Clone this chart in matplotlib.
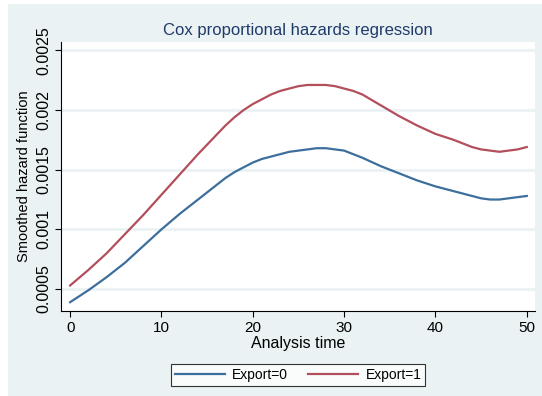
import numpy as np
import matplotlib
matplotlib.use('Agg')
from matplotlib import pyplot as plt

plt.rcParams['font.family'] = ['Liberation Sans', 'DejaVu Sans']

# analysis time grid and smoothed hazards
time = [0, 2, 4, 6, 8, 10, 12, 14, 16, 17, 18, 19, 20, 21, 22, 23, 24, 25, 26,
        27, 28, 29, 30, 31, 32, 34, 36, 38, 40, 42, 43, 44, 45, 46, 47, 48, 49, 50]
haz_export0 = [0.00039, 0.00049, 0.00060, 0.00072, 0.00086, 0.00100, 0.00113,
               0.00125, 0.00137, 0.00143, 0.00148, 0.00152, 0.00156, 0.00159,
               0.00161, 0.00163, 0.00165, 0.00166, 0.00167, 0.00168, 0.00168,
               0.00167, 0.00166, 0.00163, 0.00160, 0.00153, 0.00147, 0.00141,
               0.00136, 0.00132, 0.00130, 0.00128, 0.00126, 0.00125, 0.00125,
               0.00126, 0.00127, 0.00128]
haz_export1 = [0.00053, 0.00066, 0.00080, 0.00096, 0.00112, 0.00129, 0.00146,
               0.00163, 0.00179, 0.00187, 0.00194, 0.00200, 0.00205, 0.00209,
               0.00213, 0.00216, 0.00218, 0.00220, 0.00221, 0.00221, 0.00221,
               0.00220, 0.00218, 0.00216, 0.00213, 0.00204, 0.00195, 0.00187,
               0.00180, 0.00175, 0.00172, 0.00169, 0.00167, 0.00166, 0.00165,
               0.00166, 0.00167, 0.00169]
xticks = [0, 10, 20, 30, 40, 50]
yticks = [0.0005, 0.001, 0.0015, 0.002, 0.0025]
ytick_labels = ['0.0005', '0.001', '0.0015', '0.002', '0.0025']

bg = '#eaf2f3'
blue = '#3d6f9c'
red = '#b34f5c'

fig = plt.figure(figsize=(5.42, 3.96), dpi=100, facecolor='white')
# stata-like light background panel with a thin white margin on the left/top
fig.patches.append(plt.Rectangle((8/542, 0), 1, 1 - 4/396, transform=fig.transFigure,
                                 facecolor=bg, edgecolor='none', zorder=-10))

ax = fig.add_axes([61/542, 1 - 311/396, (535 - 61)/542, (311 - 42)/396])
ax.set_facecolor('white')

ax.plot(time, haz_export0, color=blue, lw=1.6, label='Export=0', solid_joinstyle='round')
ax.plot(time, haz_export1, color=red, lw=1.6, label='Export=1', solid_joinstyle='round')

ax.set_xlim(-1, 50.9)
ax.set_ylim(0.000316, 0.00257)
ax.set_xticks(xticks)
ax.set_yticks(yticks)
ax.set_yticklabels(ytick_labels, rotation=90, va='center')
ax.tick_params(axis='both', direction='out', length=4, width=0.8, colors='black',
               labelsize=11, pad=3)
ax.tick_params(axis='y', labelsize=11.5)

ax.grid(axis='y', color=bg, lw=2)
ax.set_axisbelow(True)
for s in ['top', 'right']:
    ax.spines[s].set_visible(False)
for s in ['left', 'bottom']:
    ax.spines[s].set_color('black')
    ax.spines[s].set_linewidth(0.8)

ax.set_title('Cox proportional hazards regression', fontsize=12, color='#1f3b6b', pad=5)
ax.set_xlabel('Analysis time', fontsize=11.5, labelpad=1)
ax.set_ylabel('Smoothed hazard function', fontsize=10.5, labelpad=4)

leg = fig.legend(loc='center', bbox_to_anchor=(298/542, 1 - 375/396), ncol=2,
                 fontsize=10, frameon=True, fancybox=False, handlelength=3.6,
                 columnspacing=1.5, borderpad=0.3, handletextpad=0.5)
leg.get_frame().set_edgecolor('black')
leg.get_frame().set_linewidth(0.8)
leg.get_frame().set_facecolor('white')

fig.savefig('out.png', dpi=100)
